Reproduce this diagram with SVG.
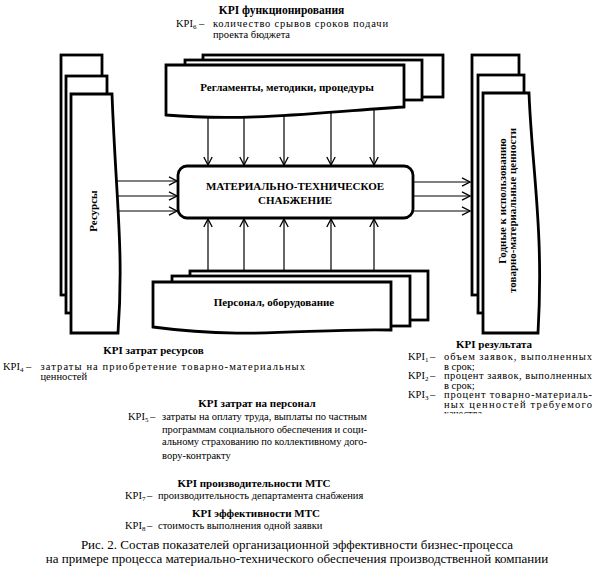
<svg xmlns="http://www.w3.org/2000/svg" width="595" height="567" viewBox="0 0 595 567">
<style>
.h{font-family:"Liberation Serif",serif;font-weight:bold;font-size:11px;fill:#000}
.t{font-family:"Liberation Serif",serif;font-size:10.5px;fill:#000}
.r{font-family:"Liberation Serif",serif;font-size:10.5px;fill:#000}
.c{font-family:"Liberation Serif",serif;font-size:13px;fill:#000}
.sub{font-size:7px}
.box{fill:#fff;stroke:#000;stroke-width:2.8;stroke-linejoin:miter}
.ln{fill:none;stroke:#000;stroke-width:1.2;marker-end:url(#ah)}
</style>
<defs>
<marker id="ah" markerWidth="10" markerHeight="10" refX="9" refY="5" orient="auto" markerUnits="userSpaceOnUse">
<path d="M1,0.8 L9,5 L1,9.2" fill="none" stroke="#000" stroke-width="1.3"/>
</marker>
<clipPath id="cut"><rect x="430" y="409.5" width="165" height="4"/></clipPath>
</defs>
<rect width="595" height="567" fill="#fff"/>

<g id="connectors">
<line class="ln" x1="208" y1="110" x2="208" y2="165"/>
<line class="ln" x1="244" y1="110" x2="244" y2="165"/>
<line class="ln" x1="284" y1="110" x2="284" y2="165"/>
<line class="ln" x1="331" y1="110" x2="331" y2="165"/>
<line class="ln" x1="374" y1="110" x2="374" y2="165"/>
<line class="ln" x1="208" y1="274" x2="208" y2="219"/>
<line class="ln" x1="244" y1="274" x2="244" y2="219"/>
<line class="ln" x1="284" y1="274" x2="284" y2="219"/>
<line class="ln" x1="331" y1="274" x2="331" y2="219"/>
<line class="ln" x1="374" y1="274" x2="374" y2="219"/>
<line class="ln" x1="110" y1="181" x2="177" y2="181"/>
<line class="ln" x1="110" y1="196" x2="177" y2="196"/>
<line class="ln" x1="110" y1="211" x2="177" y2="211"/>
<line class="ln" x1="414" y1="182" x2="470" y2="182"/>
<line class="ln" x1="414" y1="196" x2="470" y2="196"/>
<line class="ln" x1="414" y1="211" x2="470" y2="211"/>
</g>

<g id="reglament">
<rect class="box" x="203" y="55" width="240" height="42"/>
<rect class="box" x="185" y="60" width="237" height="40"/>
<path class="box" d="M166,65 H404 V107 C320,112 250,122 166,115 Z"/>
<text class="h" x="287" y="91" text-anchor="middle">Регламенты, методики, процедуры</text>
</g>

<g id="resursy">
<rect class="box" x="61" y="55" width="41" height="240"/>
<rect class="box" x="66" y="76" width="41" height="237"/>
<path class="box" d="M71,94 H112 C116,200 124,250 118,333 H71 Z"/>
<text class="h" transform="translate(96.5,211) rotate(-90)" text-anchor="middle">Ресурсы</text>
</g>

<g id="godnye">
<rect class="box" x="472" y="55" width="47" height="240"/>
<rect class="box" x="478" y="75" width="46" height="238"/>
<path class="box" d="M483,93 H529 C532,170 544,230 538,333 H483 Z"/>
<text class="h" transform="translate(505.5,201) rotate(-90)" text-anchor="middle">Годные к использованию</text>
<text class="h" transform="translate(515.5,210.5) rotate(-90)" text-anchor="middle">товарно-материальные ценности</text>
</g>

<g id="personal">
<rect class="box" x="190" y="271" width="238" height="49"/>
<rect class="box" x="172" y="276" width="238" height="50"/>
<path class="box" d="M153,282 H391 V330 C310,328 250,340 153,327 Z"/>
<text class="h" x="274" y="306" text-anchor="middle">Персонал, оборудование</text>
</g>

<g id="mts">
<rect class="box" x="178" y="166" width="235" height="52" rx="9"/>
<text class="h" x="295" y="190" text-anchor="middle">МАТЕРИАЛЬНО-ТЕХНИЧЕСКОЕ</text>
<text class="h" x="295" y="203.5" text-anchor="middle">СНАБЖЕНИЕ</text>
</g>

<g id="kpi-func">
<text class="h" x="281.5" y="14" text-anchor="middle" style="font-size:11.5px">KPI функционирования</text>
<text class="t" x="176" y="27">KPI<tspan class="sub" dy="2">6</tspan></text>
<text class="t" x="199" y="27">–</text>
<text class="t" x="213" y="27" textLength="175" lengthAdjust="spacing">количество срывов сроков подачи</text>
<text class="t" x="213" y="38">проекта бюджета</text>
</g>

<g id="kpi-res">
<text class="h" x="153.5" y="354" text-anchor="middle">KPI затрат ресурсов</text>
<text class="t" x="3" y="370">KPI<tspan class="sub" dy="2">4</tspan></text>
<text class="t" x="26" y="370">–</text>
<text class="t" x="40.5" y="370" textLength="264.5" lengthAdjust="spacing">затраты на приобретение товарно-материальных</text>
<text class="t" x="40.5" y="380">ценностей</text>
</g>

<g id="kpi-pers">
<text class="h" x="257" y="407" text-anchor="middle">KPI затрат на персонал</text>
<text class="t" x="128" y="420">KPI<tspan class="sub" dy="2">5</tspan></text>
<text class="t" x="150" y="420">–</text>
<text class="t" x="162" y="420" textLength="205" lengthAdjust="spacing">затраты на оплату труда, выплаты по частным</text>
<text class="t" x="162" y="432.5" textLength="205" lengthAdjust="spacing">программам социального обеспечения и соци-</text>
<text class="t" x="162" y="445" textLength="205" lengthAdjust="spacing">альному страхованию по коллективному дого-</text>
<text class="t" x="162" y="459">вору-контракту</text>
</g>

<g id="kpi-result">
<text class="h" x="494" y="348" text-anchor="middle">KPI результата</text>
<text class="r" x="408" y="360">KPI<tspan class="sub" dy="2">1</tspan></text>
<text class="r" x="430" y="360">–</text>
<text class="r" x="444" y="360" textLength="148" lengthAdjust="spacing">объем заявок, выполненных</text>
<text class="r" x="444" y="369.5">в срок;</text>
<text class="r" x="408" y="379">KPI<tspan class="sub" dy="2">2</tspan></text>
<text class="r" x="430" y="379">–</text>
<text class="r" x="444" y="379" textLength="148" lengthAdjust="spacing">процент заявок, выполненных</text>
<text class="r" x="444" y="388.5">в срок;</text>
<text class="r" x="408" y="398">KPI<tspan class="sub" dy="2">3</tspan></text>
<text class="r" x="430" y="398">–</text>
<text class="r" x="444" y="398" textLength="148" lengthAdjust="spacing">процент товарно-материаль-</text>
<text class="r" x="444" y="407.5" textLength="148" lengthAdjust="spacing">ных ценностей требуемого</text>
<text class="r" x="444" y="417" clip-path="url(#cut)" fill="#888">качества</text>
</g>

<g id="kpi-prod">
<text class="h" x="254" y="487" text-anchor="middle">KPI производительности МТС</text>
<text class="t" x="125" y="499">KPI<tspan class="sub" dy="2">7</tspan></text>
<text class="t" x="147" y="499">–</text>
<text class="t" x="158" y="499">производительность департамента снабжения</text>
</g>

<g id="kpi-eff">
<text class="h" x="256" y="517" text-anchor="middle">KPI эффективности МТС</text>
<text class="t" x="125" y="529">KPI<tspan class="sub" dy="2">8</tspan></text>
<text class="t" x="147" y="529">–</text>
<text class="t" x="158" y="529">стоимость выполнения одной заявки</text>
</g>

<g id="caption">
<text class="c" x="297" y="549" text-anchor="middle">Рис. 2. Состав показателей организационной эффективности бизнес-процесса</text>
<text class="c" x="297" y="563" text-anchor="middle">на примере процесса материально-технического обеспечения производственной компании</text>
</g>
</svg>
